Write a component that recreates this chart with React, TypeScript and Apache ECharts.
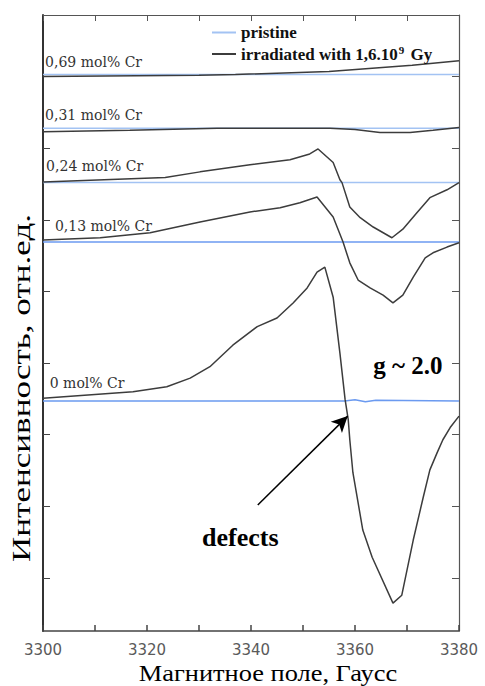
import React, { useEffect, useRef } from 'react';
import * as echarts from 'echarts';

// Magnetic field (Gauss) vs intensity (arb. units, one unit = one y tick)
const xTickLabels = [3300, 3320, 3340, 3360, 3380];
const yTickValues = [0, 1, 2, 3, 4, 5, 6, 7];

const pristine069 = [[3300, 7.03], [3380, 7.03]];
const pristine031 = [[3300, 6.28], [3380, 6.28]];
const pristine024 = [[3300, 5.52], [3380, 5.52]];
const pristine013 = [[3300, 4.69], [3380, 4.69]];
const pristine000 = [[3300, 2.47], [3358, 2.47], [3360, 2.49], [3362, 2.46], [3364, 2.48], [3380, 2.47]];

const irr069 = [[3300, 7.0], [3330, 7.02], [3337, 7.03], [3355, 7.07], [3371, 7.16], [3380, 7.22]];
const irr031 = [[3300, 6.23], [3316.7, 6.25], [3333.5, 6.28], [3355.2, 6.28], [3360, 6.26], [3364.8, 6.22], [3370.6, 6.22], [3375, 6.25], [3380, 6.29]];
const irr024 = [
  [3300, 5.53], [3323.5, 5.59], [3330.2, 5.67], [3339.8, 5.77], [3347.5, 5.84], [3351.3, 5.92], [3352.9, 5.99],
  [3355.8, 5.8], [3357.1, 5.56], [3357.5, 5.52], [3359, 5.18], [3361, 5.03], [3363.5, 4.9], [3367.1, 4.75],
  [3369.2, 4.87], [3371.9, 5.1], [3374.4, 5.31], [3377.7, 5.42], [3380, 5.52],
];
const irr013 = [
  [3300, 4.72], [3311, 4.75], [3320.6, 4.82], [3330.2, 4.97], [3339.8, 5.11], [3345.6, 5.17], [3349.4, 5.24],
  [3352.7, 5.32], [3355.8, 5.04], [3357.7, 4.69], [3359, 4.4], [3360.6, 4.16], [3362.9, 4.05], [3365.4, 3.95],
  [3367.3, 3.84], [3369.2, 3.95], [3371.2, 4.2], [3373.5, 4.47], [3375, 4.54], [3377.7, 4.62], [3380, 4.68],
];
const irr000 = [
  [3300, 2.51], [3317.3, 2.6], [3323.8, 2.67], [3328.3, 2.79], [3332.1, 2.95], [3336.5, 3.25], [3341.2, 3.51],
  [3345, 3.63], [3348.1, 3.84], [3350.8, 4.05], [3352.7, 4.27], [3354.2, 4.34], [3355.8, 3.92], [3357.1, 3.14],
  [3358.1, 2.49], [3358.7, 2.21], [3359, 1.93], [3359.6, 1.47], [3361.5, 0.67], [3363.3, 0.29], [3367.3, -0.35],
  [3369, -0.24], [3371.2, 0.53], [3373.1, 1.12], [3374.4, 1.51], [3375.8, 1.75], [3376.9, 1.93], [3378.3, 2.1], [3380, 2.26],
];

const curveLabels = [
  { text: '0,69 mol% Cr', at: [3300.4, 7.21] },
  { text: '0,31 mol% Cr', at: [3300.4, 6.47] },
  { text: '0,24 mol% Cr', at: [3300.6, 5.75] },
  { text: '0,13 mol% Cr', at: [3302.3, 4.92] },
  { text: '0 mol% Cr', at: [3301.3, 2.72] },
];
const gLabel = { text: 'g ~ 2.0', at: [3363.5, 2.96] };
const defectsLabel = { text: 'defects', at: [3330.6, 0.57] };
const arrowFrom = [3341.3, 1.02];
const arrowTo = [3358.6, 2.26];

const LIGHT_BLUE = '#a3c3f3';
const BLUE = '#6b9af0';
const DARK = '#3c3c3c';
const SERIF = '"Liberation Serif", "Times New Roman", serif';

export default function App() {
  const ref = useRef<HTMLDivElement>(null);
  useEffect(() => {
    if (!ref.current) return;
    const chart = echarts.init(ref.current, null, { renderer: 'svg' });
    const line = (name: string, data: number[][], color: string, width: number, z: number, extra: any = {}) => ({
      type: 'line',
      name,
      data,
      symbol: 'none',
      z,
      lineStyle: { color, width },
      itemStyle: { color },
      ...extra,
    });
    const pristineSets = [
      [pristine069, LIGHT_BLUE], [pristine031, LIGHT_BLUE], [pristine024, LIGHT_BLUE],
      [pristine013, BLUE], [pristine000, BLUE],
    ] as const;
    const irrSets = [irr069, irr031, irr024, irr013, irr000];
    const series: any[] = [];
    pristineSets.forEach(([d, c]) => series.push(line('pristine', d as any, c as string, 1.5, 2)));
    irrSets.forEach((d, i) =>
      series.push(
        line('irradiated', d, DARK, 1.5, 3,
          i === 4
            ? {
                markLine: {
                  silent: true,
                  symbol: ['none', 'arrow'],
                  symbolSize: [12, 16],
                  label: { show: false },
                  lineStyle: { color: '#000', width: 1.5, type: 'solid' },
                  data: [[{ coord: arrowFrom }, { coord: arrowTo }]],
                },
              }
            : {})
      )
    );

    const axisLine = { show: true, onZero: false, lineStyle: { color: '#555', width: 1.2 } };
    chart.setOption({
      animation: false,
      backgroundColor: '#fff',
      grid: { left: 43, right: 26, top: 15, bottom: 55 },
      legend: {
        orient: 'vertical',
        left: 207,
        top: 19,
        itemGap: 3,
        itemWidth: 24,
        itemHeight: 2,
        icon: 'rect',
        data: [
          { name: 'pristine', itemStyle: { color: LIGHT_BLUE } },
          { name: 'irradiated', itemStyle: { color: DARK } },
        ],
        formatter: (n: string) =>
          n === 'pristine' ? '{b|pristine}' : '{b|irradiated with 1,6.10}{s|9}{b| Gy}',
        textStyle: {
          rich: {
            b: { fontFamily: SERIF, fontWeight: 'bold', fontSize: 17, color: '#111', lineHeight: 20 },
            s: { fontFamily: SERIF, fontWeight: 'bold', fontSize: 11, color: '#111', verticalAlign: 'top', lineHeight: 20, padding: [0, 2, 7, 1] },
          },
        },
      },
      xAxis: [
        {
          type: 'value', min: 3300, max: 3380, interval: 10, position: 'bottom',
          axisLine: { show: true, onZero: false, lineStyle: { color: '#444', width: 1.5 } },
          axisTick: { show: true, inside: true, length: 6, lineStyle: { color: '#444', width: 1.5 } },
          splitLine: { show: false },
          axisLabel: {
            margin: 11, fontFamily: '"DejaVu Sans", sans-serif', fontSize: 15, color: '#5a5a5a',
            formatter: (v: number) => (xTickLabels.includes(v) ? String(v) : ''),
          },
        },
        {
          type: 'value', min: 3300, max: 3380, interval: 10, position: 'top',
          axisLine, axisTick: { show: true, inside: true, length: 6, lineStyle: { color: '#555' } },
          splitLine: { show: false }, axisLabel: { show: false },
        },
      ],
      yAxis: [
        {
          type: 'value', min: -0.74, max: 7.86, position: 'left',
          axisLine: { show: true, onZero: false, lineStyle: { color: '#333', width: 2 } },
          axisTick: { show: true, inside: true, length: 7, customValues: yTickValues, lineStyle: { color: '#444' } },
          axisLabel: { show: false }, splitLine: { show: false },
        },
        {
          type: 'value', min: -0.74, max: 7.86, position: 'right',
          axisLine, axisTick: { show: true, inside: true, length: 7, customValues: yTickValues, lineStyle: { color: '#555' } },
          axisLabel: { show: false }, splitLine: { show: false },
        },
      ],
      series,
    });

    const px = (p: number[]) => chart.convertToPixel({ xAxisIndex: 0, yAxisIndex: 0 }, p) as number[];
    const graphic: any[] = curveLabels.map((l) => {
      const [x, y] = px(l.at);
      return {
        type: 'text', x, y, z: 10, silent: true,
        style: { text: l.text, fontFamily: '"DejaVu Serif", serif', fontSize: 14, fill: '#333', align: 'left', verticalAlign: 'middle' },
      };
    });
    [gLabel, defectsLabel].forEach((l, i) => {
      const [x, y] = px(l.at);
      graphic.push({
        type: 'text', x, y, z: 10, silent: true,
        style: { text: l.text, fontFamily: SERIF, fontWeight: 'bold', fontSize: i === 0 ? 25 : 26, fill: '#000', align: 'left', verticalAlign: 'middle' },
      });
    });
    graphic.push({
      type: 'text', x: 21, y: 388, rotation: Math.PI / 2, scaleX: 1.35, silent: true,
      style: { text: 'Интенсивность, отн.ед.', fontFamily: SERIF, fontSize: 26, fill: '#000', align: 'center', verticalAlign: 'middle' },
    });
    graphic.push({
      type: 'text', x: 268, y: 673, scaleX: 1.1, silent: true,
      style: { text: 'Магнитное поле, Гаусс', fontFamily: SERIF, fontSize: 24, fill: '#000', align: 'center', verticalAlign: 'middle' },
    });
    chart.setOption({ graphic });

    return () => chart.dispose();
  }, []);
  return <div ref={ref} style={{ position: 'fixed', left: 0, top: 0, width: 485, height: 686 }} />;
}
